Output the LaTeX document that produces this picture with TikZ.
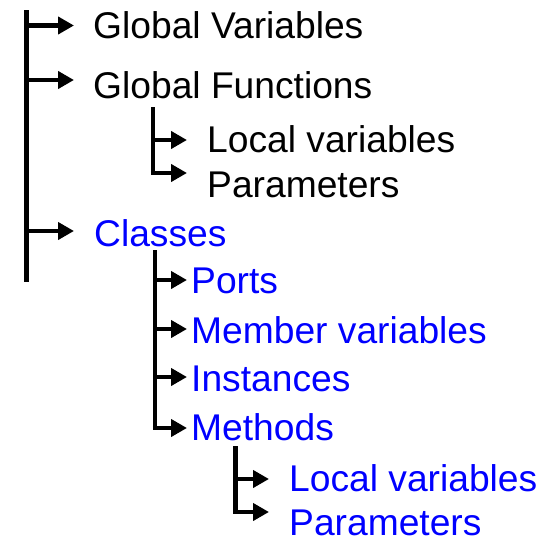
\documentclass[tikz,border=0pt]{standalone}
\usepackage{fontspec}
\setmainfont{Liberation Sans}
\usetikzlibrary{arrows.meta}
\definecolor{itemblue}{RGB}{0,0,255}
\begin{document}
\begin{tikzpicture}[x=1pt,y=-1pt,
  trunk/.style={line width=5pt},
  branch/.style={line width=4.5pt,-{Triangle[length=16pt,width=17pt]}},
  lbl/.style={anchor=base west,inner sep=0pt,font=\fontsize{37.2}{44}\selectfont},
  blk/.style={lbl,text=black},
  blu/.style={lbl,text=itemblue}]
\useasboundingbox (0,0) rectangle (542,538);

% labels
\node[blk] (gv)  at (93,38)  {Global Variables};
\node[blk] (gf)  at (93,98)  {Global Functions};
\node[blk] (lv1) at (207,152) {Local variables};
\node[blk] (pa1) at (207,197) {Parameters};
\node[blu] (cl)  at (94,246) {Classes};
\node[blu] (po)  at (191,293) {Ports};
\node[blu] (mv)  at (191,343) {Member variables};
\node[blu] (in)  at (191,391) {Instances};
\node[blu] (me)  at (191,440) {Methods};
\node[blu] (lv2) at (289,491) {Local variables};
\node[blu] (pa2) at (289,535) {Parameters};

% main trunk and its branches
\coordinate (t0top) at (26.5,10);
\coordinate (t0bot) at (26.5,282);
\draw[trunk] (t0top) -- (t0bot);
\coordinate (a1) at (74,25.5);
\coordinate (a2) at (74,80);
\coordinate (a3) at (74,231);
\draw[branch] (t0top |- a1) -- (a1);
\draw[branch] (t0top |- a2) -- (a2);
\draw[branch] (t0top |- a3) -- (a3);

% sub trunk under Global Functions
\coordinate (t1top) at (153,107);
\coordinate (b1) at (187,140);
\coordinate (b2) at (187,173);
\draw[trunk,line width=4.5pt] (t1top) -- (t1top |- b2);
\draw[branch] (t1top |- b1) -- (b1);
\draw[branch] ([xshift=-2.25pt]t1top |- b2) -- (b2);

% sub trunk under Classes
\coordinate (t2top) at (155,250);
\coordinate (c1) at (187,280);
\coordinate (c2) at (187,329);
\coordinate (c3) at (187,377);
\coordinate (c4) at (187,428);
\draw[trunk,line width=4.5pt] (t2top) -- (t2top |- c4);
\draw[branch] (t2top |- c1) -- (c1);
\draw[branch] (t2top |- c2) -- (c2);
\draw[branch] (t2top |- c3) -- (c3);
\draw[branch] ([xshift=-2.25pt]t2top |- c4) -- (c4);

% sub trunk under Methods
\coordinate (t3top) at (235.5,446);
\coordinate (d1) at (269,479);
\coordinate (d2) at (269,512);
\draw[trunk,line width=4.5pt] (t3top) -- (t3top |- d2);
\draw[branch] (t3top |- d1) -- (d1);
\draw[branch] ([xshift=-2.25pt]t3top |- d2) -- (d2);
\end{tikzpicture}
\end{document}
